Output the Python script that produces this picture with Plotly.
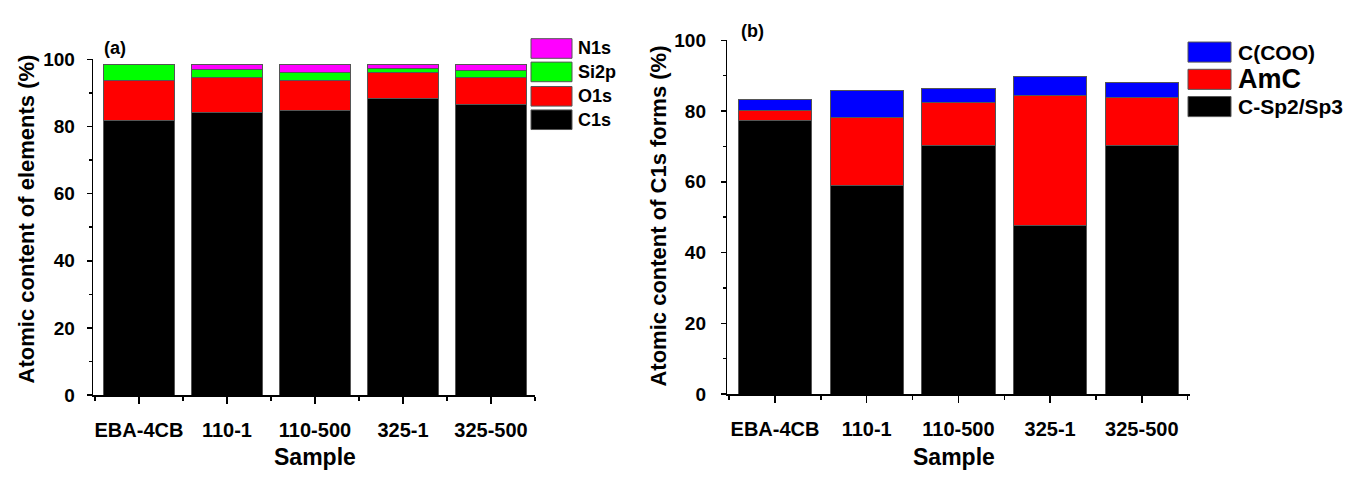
import plotly.graph_objects as go

W, H = 1353, 479

samples = ["EBA-4CB", "110-1", "110-500", "325-1", "325-500"]

# Panel (a): atomic content of elements (%)
elem_names = ["C1s", "O1s", "Si2p", "N1s"]
c1s = [81.7, 84.3, 84.8, 88.3, 86.5]
o1s = [11.9, 10.3, 9.0, 7.7, 8.1]
si2p = [4.8, 2.4, 2.2, 1.4, 2.1]
n1s = [0.0, 1.6, 2.6, 1.2, 1.9]
elem_colors = ["#000000", "#ff0000", "#00ff00", "#ff00ff"]

# Panel (b): atomic content of C1s forms (%)
form_names = ["C-Sp2/Sp3", "AmC", "C(COO)"]
c_sp2sp3 = [77.2, 59.0, 70.2, 47.7, 70.4]
amc = [3.0, 19.2, 12.2, 36.6, 13.5]
c_coo = [3.0, 7.6, 4.0, 5.5, 4.1]
form_colors = ["#000000", "#ff0000", "#0000ff"]

FONT = "Liberation Sans, Arial, sans-serif"
xs = list(range(len(samples)))

fig = go.Figure()
for name, vals, col in zip(elem_names, [c1s, o1s, si2p, n1s], elem_colors):
    fig.add_trace(go.Bar(x=xs, y=vals, name=name, marker=dict(color=col, line=dict(color="#555555", width=1)),
                         xaxis="x", yaxis="y", showlegend=False))
for name, vals, col in zip(form_names, [c_sp2sp3, amc, c_coo], form_colors):
    fig.add_trace(go.Bar(x=xs, y=vals, name=name, marker=dict(color=col, line=dict(color="#555555", width=1)),
                         xaxis="x2", yaxis="y2", showlegend=False))

def px_x(p):
    return p / W

def px_y(p):
    return 1 - p / H

tickfont = dict(family=FONT, size=19, color="black", weight="bold")
xtickfont = dict(family=FONT, size=20, color="black", weight="bold")

def xaxis_cfg(domain, anchor, rng):
    return dict(domain=domain, anchor=anchor, range=rng, tickvals=xs, ticktext=samples,
                showline=True, linecolor="black", linewidth=1.5, ticks="outside", ticklen=7,
                tickwidth=1.5, tickcolor="black", tickfont=xtickfont, showgrid=False, zeroline=False,
                ticklabelstandoff=9, fixedrange=True,
                minor=dict(ticks="outside", ticklen=4, tickwidth=1.5, tickcolor="black",
                           tickvals=[i - 0.5 for i in range(len(samples) + 1)], showgrid=False))

def yaxis_cfg(domain, anchor, standoff):
    return dict(domain=domain, anchor=anchor, range=[0, 100], tickvals=[0, 20, 40, 60, 80, 100],
                showline=True, linecolor="black", linewidth=1.5, ticks="outside", ticklen=5,
                tickwidth=1.5, tickcolor="black", tickfont=tickfont, showgrid=False, zeroline=False,
                ticklabelstandoff=standoff, fixedrange=True,
                minor=dict(ticks="outside", ticklen=3, tickwidth=1.5, tickcolor="black",
                           tickvals=[10, 30, 50, 70, 90], showgrid=False))

shapes = []
annotations = []

def legend(entries, x0, x1, tops, h, tx, sizes):
    for (name, col), top, sz in zip(entries, tops, sizes):
        shapes.append(dict(type="rect", xref="paper", yref="paper",
                           x0=px_x(x0), x1=px_x(x1), y0=px_y(top + h), y1=px_y(top),
                           fillcolor=col, line=dict(color="#555555", width=1)))
        annotations.append(dict(xref="paper", yref="paper", x=px_x(tx), y=px_y(top + h / 2),
                                xanchor="left", yanchor="middle", showarrow=False, text=name,
                                font=dict(family=FONT, size=sz, color="black", weight="bold")))

# legend (a): top to bottom N1s, Si2p, O1s, C1s
legend(list(zip(elem_names, elem_colors))[::-1], 531, 572, [30, 54.5, 80, 104.5], 20.5, 576, [18, 18, 18, 18])
# legend (b): top to bottom C(COO), AmC, C-Sp2/Sp3
legend(list(zip(form_names, form_colors))[::-1], 1188, 1231, [33.5, 62, 90.5], 21, 1236, [21, 27, 21])

def text(x, y, s, size, angle=0):
    annotations.append(dict(xref="paper", yref="paper", x=px_x(x), y=px_y(y), xanchor="center",
                            yanchor="middle", showarrow=False, text=s, textangle=angle,
                            font=dict(family=FONT, size=size, color="black", weight="bold")))

text(115, 40, "(a)", 18)
text(752, 22, "(b)", 18)
text(26, 219, "Atomic content of elements (%)", 22, -90)
text(659, 216, "Atomic content of C1s forms (%)", 22, -90)
text(315, 467, "Sample", 23)
text(954, 467, "Sample", 23)

fig.update_layout(
    width=W, height=H, margin=dict(l=0, r=0, t=0, b=0),
    paper_bgcolor="white", plot_bgcolor="white",
    barmode="stack", bargap=0.2, hovermode=False,
    xaxis=xaxis_cfg([px_x(93.2), px_x(535)], "y", [-0.52, 4.5]),
    yaxis=yaxis_cfg([px_y(402.7), px_y(51.7)], "x", 8),
    xaxis2=xaxis_cfg([px_x(727.3), px_x(1189.5)], "y2", [-0.52, 4.52]),
    yaxis2=yaxis_cfg([px_y(401.7), px_y(31.7)], "x2", 11),
    shapes=shapes, annotations=annotations,
)

fig.write_html("out.html", config={"displayModeBar": False, "staticPlot": True},
               post_script="document.body.style.margin='0';document.body.style.overflow='hidden';")
